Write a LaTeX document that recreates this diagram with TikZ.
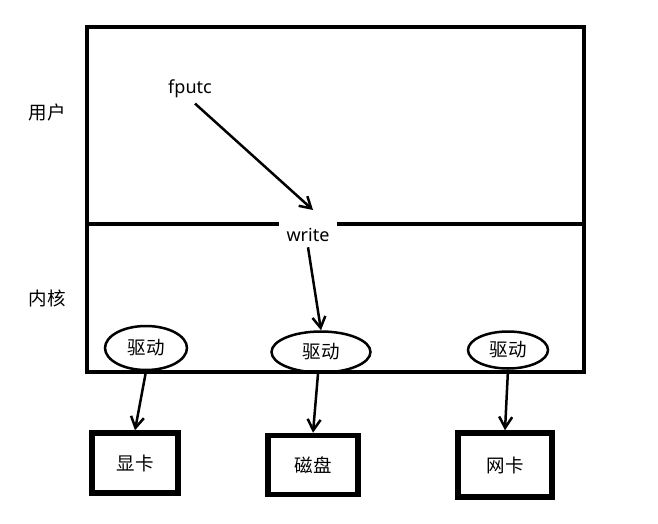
\documentclass[tikz,border=0pt]{standalone}
\usepackage{fontspec}
\setmainfont{Noto Sans}
\newfontfamily\cjk{Noto Sans CJK SC}
\usetikzlibrary{arrows.meta, shapes.geometric, positioning}

\begin{document}
\begin{tikzpicture}[x=1pt,y=-1pt,
    arr/.style={-{Straight Barb[length=11pt,width=13pt,line width=2.5pt]}, line width=2.5pt},
    zh/.style={font=\cjk\fontsize{18.5}{22}\selectfont},
    en/.style={font=\fontsize{18}{22}\selectfont},
    drv/.style={ellipse, draw, line width=2.5pt, inner sep=0pt, zh},
    dev/.style={draw, line width=5.5pt, inner sep=0pt, zh}]
    \useasboundingbox (0,0) rectangle (658,524);
    % 外框
    \node[draw, line width=4.5pt, minimum width=497pt, minimum height=345pt, inner sep=0pt] (frame) at (335.5,199.5) {};
    \node[zh] (user) at (47,112) {用户};
    \node[zh] (kernel) at (47,298) {内核};
    \node[en] (fputc) at (190,89) {fputc};
    \node[en, fill=white, inner xsep=7pt] (write) at (308,235) {write};
    \coordinate (divl) at (87,224);
    \coordinate (divr) at (584,224);
    \draw[line width=4.5pt] (divl) -- (divl -| write.west);
    \draw[line width=4.5pt] (divl -| write.east) -- (divr);
    % 驱动
    \node[drv, minimum width=82pt, minimum height=44pt] (drv1) at (146,348) {驱动};
    \node[drv, minimum width=99pt, minimum height=41pt] (drv2) at (321,352) {驱动};
    \node[drv, minimum width=80pt, minimum height=37pt] (drv3) at (508,350) {驱动};
    % 设备
    \node[dev, minimum width=86pt, minimum height=60pt] (card1) at (135,463) {显卡};
    \node[dev, minimum width=90pt, minimum height=59pt] (disk) at (313,465) {磁盘};
    \node[dev, minimum width=94pt, minimum height=64pt] (card2) at (505,465) {网卡};
    \draw[arr] (fputc.south) ++(5,2) -- (313,210);
    \draw[arr] (write.south) ++(0,2) -- (drv2.north);
    \draw[arr] (drv1.south) -- (card1.north);
    \draw[arr] (drv2.south) ++(-3,0) -- (disk.north);
    \draw[arr] (drv3.south) -- (card2.north);
\end{tikzpicture}
\end{document}
